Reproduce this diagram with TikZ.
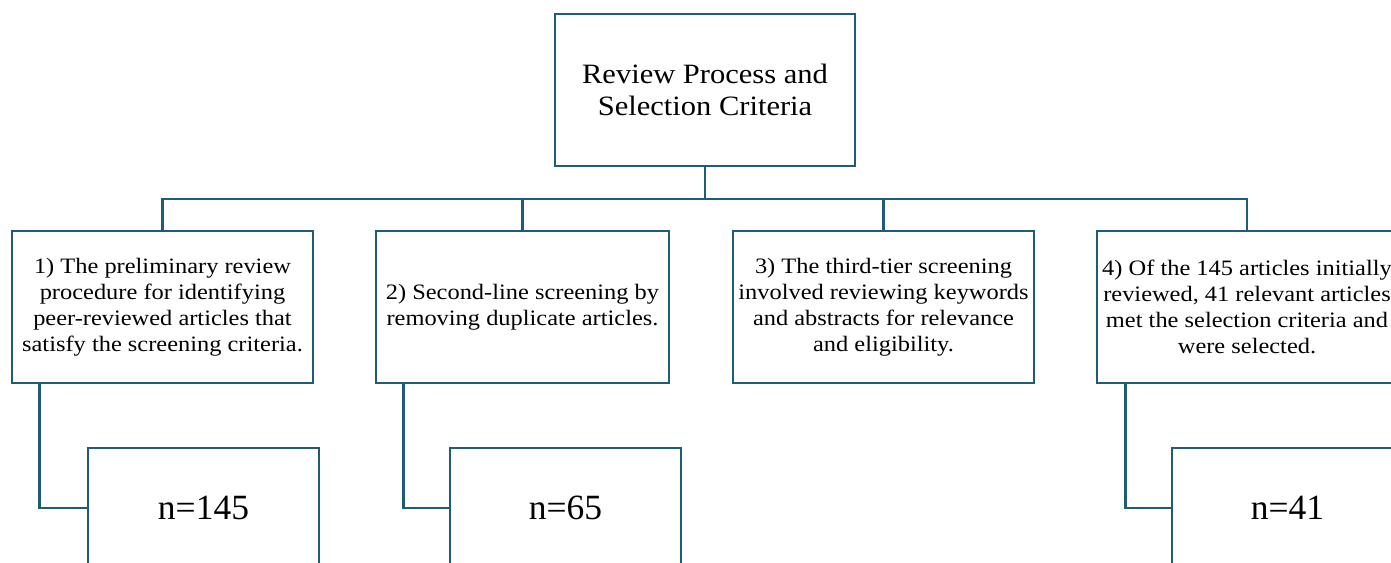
\documentclass[tikz,border=0pt]{standalone}
\usepackage{fontspec}
\setmainfont{Liberation Serif}
\newfontfamily\widestage{Liberation Serif}[FakeStretch=1.11]
\newfontfamily\widetitle{Liberation Serif}[FakeStretch=1.09]
\definecolor{frame}{RGB}{30,92,120}
\begin{document}
\begin{tikzpicture}[x=1pt,y=-1pt,
  box/.style={draw=frame,line width=2.8pt,fill=white,rectangle,inner sep=0pt,align=center},
  link/.style={draw=frame,line width=2.8pt},
  stagetext/.style={font=\widestage\fontsize{22}{26}\selectfont},
  ]
\useasboundingbox[fill=white] (0,0) rectangle (1391,562);
\clip (0,0) rectangle (1391,562);
\node[box,minimum width=300pt,minimum height=152pt,font=\widetitle\fontsize{28}{32}\selectfont] (top) at (705,90) {Review Process and\\Selection Criteria};
\node[box,stagetext,minimum width=301pt,minimum height=152pt] (b1) at (162.5,307) {1) The preliminary review\\procedure for identifying\\peer-reviewed articles that\\satisfy the screening criteria.};
\node[box,stagetext,minimum width=293pt,minimum height=152pt] (b2) at (522.5,307) {2) Second-line screening by\\removing duplicate articles.};
\node[box,stagetext,minimum width=301pt,minimum height=152pt] (b3) at (883.5,307) {3) The third-tier screening\\involved reviewing keywords\\and abstracts for relevance\\and eligibility.};
\node[box,stagetext,minimum width=300pt,minimum height=152pt] (b4) at (1247,307) {4) Of the 145 articles initially\\reviewed, 41 relevant articles\\met the selection criteria and\\were selected.};
\node[box,minimum width=231pt,minimum height=120pt,font=\fontsize{35.5}{40}\selectfont] (nA) at (203.5,508) {n=145};
\node[box,minimum width=231pt,minimum height=120pt,font=\fontsize{35.5}{40}\selectfont] (nB) at (565.5,508) {n=65};
\node[box,minimum width=231pt,minimum height=120pt,font=\fontsize{35.5}{40}\selectfont] (nC) at (1287.5,508) {n=41};
\coordinate (bus) at (705,199);
\draw[link] (top.south) -- (bus);
\draw[link] (b1.north) |- (bus);
\draw[link] (b4.north) |- (bus);
\draw[link] (b2.north) -- (b2.north |- bus);
\draw[link] (b3.north) -- (b3.north |- bus);
\draw[link] ([xshift=29pt]b1.south west) |- (nA.west);
\draw[link] ([xshift=29pt]b2.south west) |- (nB.west);
\draw[link] ([xshift=30pt]b4.south west) |- (nC.west);
\end{tikzpicture}
\end{document}
